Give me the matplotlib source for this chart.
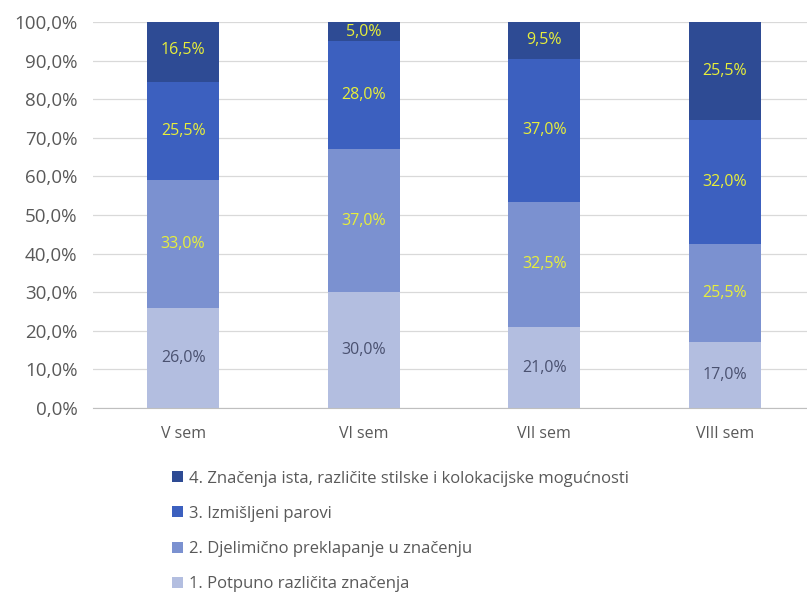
import numpy as np
import matplotlib
matplotlib.use('Agg')
import matplotlib.pyplot as plt
from matplotlib.ticker import FuncFormatter

# Podaci
categories = ['V sem', 'VI sem', 'VII sem', 'VIII sem']
series_names = [
    '1. Potpuno različita značenja',
    '2. Djelimično preklapanje u značenju',
    '3. Izmišljeni parovi',
    '4. Značenja ista, različite stilske i kolokacijske mogućnosti',
]
s1 = [26.0, 30.0, 21.0, 17.0]
s2 = [33.0, 37.0, 32.5, 25.5]
s3 = [25.5, 28.0, 37.0, 32.0]
s4 = [16.5, 5.0, 9.5, 25.5]

colors = ['#b3bee0', '#7b91d0', '#3c60bf', '#2e4b94']
label_colors = ['#4a5170', '#e8ef3a', '#e8ef3a', '#e8ef3a']

plt.rcParams['font.family'] = ['Open Sans', 'DejaVu Sans']

fig = plt.figure(figsize=(8.07, 5.94), dpi=100)
ax = fig.add_axes([0.115, 0.313, 0.895, 0.650])

x = np.arange(len(categories))
bottom = np.zeros(len(categories))
handles = []
for vals, name, c, lc in zip([s1, s2, s3, s4], series_names, colors, label_colors):
    v = np.array(vals) / 100.0
    b = ax.bar(x, v, 0.4, bottom=bottom, color=c, label=name, zorder=2)
    handles.append(b)
    for xi, bi, vi in zip(x, bottom, v):
        ax.text(xi, bi + vi / 2, f'{vi * 100:.1f}%'.replace('.', ','),
                ha='center', va='center', fontsize=11.5, color=lc, zorder=3)
    bottom += v

ax.set_ylim(0, 1.0)
ax.set_xlim(-0.5, 3.5)
ax.set_yticks(np.arange(0, 1.01, 0.1))
ax.yaxis.set_major_formatter(FuncFormatter(lambda y, p: f'{y * 100:.1f}%'.replace('.', ',')))
ax.set_xticks(x)
ax.set_xticklabels(categories)
ax.grid(axis='y', color='#d9d9d9', linewidth=0.9, zorder=0)
ax.set_axisbelow(True)
for s in ['top', 'right', 'left']:
    ax.spines[s].set_visible(False)
ax.spines['bottom'].set_color('#bfbfbf')
ax.tick_params(axis='both', length=0, colors='#595959')
ax.tick_params(axis='x', pad=13, labelsize=11.5)
ax.tick_params(axis='y', pad=11, labelsize=13.5)

fig.legend(handles[::-1], series_names[::-1], loc='upper left',
           bbox_to_anchor=(0.195, 0.233), frameon=False, fontsize=12,
           labelcolor='#595959', handlelength=0.65, handleheight=0.65,
           handletextpad=0.35, labelspacing=1.15)

fig.savefig('out.png', dpi=100)
